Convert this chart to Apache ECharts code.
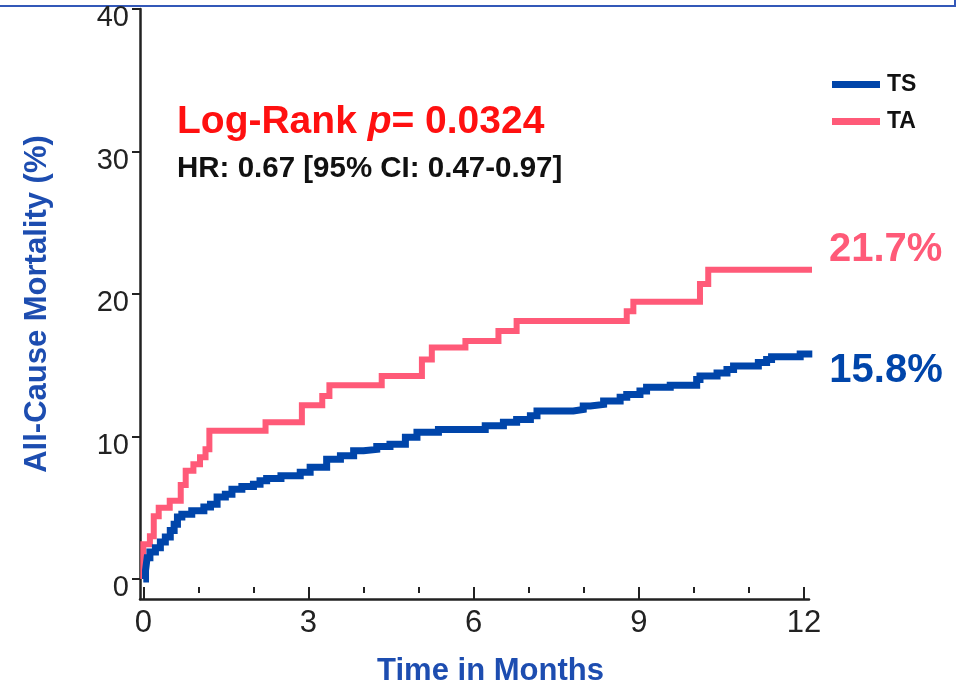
<!DOCTYPE html>
<html>
<head>
<meta charset="utf-8">
<title>All-Cause Mortality</title>
<script src="https://cdn.jsdelivr.net/npm/echarts@6/dist/echarts.min.js"></script>
<style>
  html, body { margin: 0; padding: 0; background: #fff; }
  #chart { width: 961px; height: 692px; }
</style>
</head>
<body>
<div id="chart"></div>
<script>
// Kaplan-Meier cumulative mortality, step values (time in months, mortality in %)
const tsTime = [0, 0.04, 0.07, 0.12, 0.22, 0.31, 0.40, 0.49, 0.56, 0.62, 0.70, 0.88, 1.10, 1.22, 1.34, 1.49, 1.61, 1.79, 2.00, 2.12, 2.24, 2.50, 2.85, 3.03, 3.33, 3.58, 3.82, 4.00, 4.24, 4.48, 4.76, 4.97, 5.36, 6.21, 6.54, 6.78, 7.03, 7.15, 7.81, 7.99, 8.12, 8.36, 8.66, 8.78, 9.02, 9.14, 9.57, 10.05, 10.11, 10.42, 10.60, 10.72, 11.17, 11.32, 11.41, 11.93, 12.15];
const tsMortality = [0, 0.6, 1.5, 1.9, 2.2, 2.6, 2.95, 3.4, 3.85, 4.35, 4.55, 4.8, 5.05, 5.25, 5.75, 5.95, 6.3, 6.5, 6.65, 6.9, 7.05, 7.25, 7.5, 7.85, 8.4, 8.65, 9.0, 9.1, 9.3, 9.45, 9.95, 10.3, 10.5, 10.75, 11.0, 11.2, 11.45, 11.8, 11.9, 12.15, 12.25, 12.5, 12.75, 12.95, 13.2, 13.45, 13.6, 14.0, 14.25, 14.45, 14.7, 14.95, 15.2, 15.4, 15.6, 15.8, 15.8];

const taTime = [0, 0, 0.12, 0.19, 0.28, 0.48, 0.68, 0.77, 0.91, 1.03, 1.13, 1.20, 2.22, 2.88, 3.25, 3.38, 4.33, 5.06, 5.24, 5.85, 6.45, 6.78, 8.78, 8.90, 10.11, 10.26, 12.15];
const taMortality = [0, 2.45, 3.0, 4.4, 5.0, 5.5, 6.6, 7.6, 8.05, 8.55, 9.1, 10.4, 11.0, 12.2, 12.85, 13.6, 14.25, 15.4, 16.25, 16.7, 17.4, 18.1, 18.8, 19.45, 20.7, 21.7, 21.7];

const xMajorTicks = [0, 3, 6, 9, 12];
const xMinorTicks = [1, 2, 4, 5, 7, 8, 10, 11];
const yTicks = [0, 10, 20, 30, 40];

const seriesNames = ['TS', 'TA'];
const TS_COLOR = '#0045AA';
const TA_COLOR = '#FF5A78';
const AXIS_COLOR = '#222';
const TITLE_BLUE = '#1D4DB0';
const FONT = "'Liberation Sans', Arial, sans-serif";

const zip = (xs, ys) => xs.map((x, i) => [x, ys[i]]);
const endFmt = p => p.value[1].toFixed(1) + '%';

const chart = echarts.init(document.getElementById('chart'), null, { renderer: 'canvas' });

chart.setOption({
  animation: false,
  backgroundColor: '#fff',
  grid: { left: 140, right: 152, top: 9, bottom: 92, containLabel: false },
  xAxis: [
    {
      type: 'value', min: -0.06, max: 12.09, position: 'bottom',
      splitLine: { show: false },
      axisLine: { onZero: false, lineStyle: { color: AXIS_COLOR, width: 2.5 } },
      axisTick: { show: true, inside: true, length: 12, customValues: xMajorTicks,
                  lineStyle: { color: AXIS_COLOR, width: 2 } },
      axisLabel: { customValues: xMajorTicks, margin: 9, color: AXIS_COLOR,
                   fontFamily: FONT, fontSize: 31 },
      name: 'Time in Months', nameLocation: 'middle', nameGap: 57,
      nameTextStyle: { color: TITLE_BLUE, fontFamily: FONT, fontWeight: 'bold', fontSize: 31,
                       padding: [0, 0, 0, 32] }
    },
    {
      // floating minor month ticks
      type: 'value', min: -0.06, max: 12.09, position: 'bottom', offset: -6,
      splitLine: { show: false },
      axisLine: { show: false, onZero: false },
      axisTick: { show: true, inside: true, length: 6, customValues: xMinorTicks,
                  lineStyle: { color: AXIS_COLOR, width: 2 } },
      axisLabel: { show: false }
    }
  ],
  yAxis: {
    type: 'value', min: -1.4, max: 40, position: 'left',
    splitLine: { show: false },
    axisLine: { onZero: false, lineStyle: { color: AXIS_COLOR, width: 2.5 } },
    axisTick: { show: true, inside: false, length: 8, customValues: yTicks,
                lineStyle: { color: AXIS_COLOR, width: 2 } },
    axisLabel: { customValues: yTicks, margin: 11, color: AXIS_COLOR,
                 fontFamily: FONT, fontSize: 29, verticalAlign: 'top', lineHeight: 18 },
    name: 'All-Cause Mortality (%)', nameLocation: 'middle', nameGap: 87, nameRotate: 90,
    nameTextStyle: { color: TITLE_BLUE, fontFamily: FONT, fontWeight: 'bold', fontSize: 31 }
  },
  legend: {
    data: seriesNames, orient: 'vertical', left: 827, top: 68,
    icon: 'rect', itemWidth: 48, itemHeight: 7, itemGap: 14,
    textStyle: { color: '#111', fontFamily: FONT, fontWeight: 'bold', fontSize: 23,
                 padding: [0, 0, 0, 2] }
  },
  series: [
    {
      name: 'TS', type: 'line', step: 'end', showSymbol: false, clip: false,
      data: zip(tsTime, tsMortality),
      lineStyle: { color: TS_COLOR, width: 7, join: 'miter' },
      itemStyle: { color: TS_COLOR },
      endLabel: { show: true, formatter: endFmt, offset: [9, 17], color: TS_COLOR,
                  fontFamily: FONT, fontWeight: 'bold', fontSize: 40 },
      z: 3
    },
    {
      name: 'TA', type: 'line', step: 'end', showSymbol: false, clip: false,
      data: zip(taTime, taMortality),
      lineStyle: { color: TA_COLOR, width: 6, join: 'miter' },
      itemStyle: { color: TA_COLOR },
      endLabel: { show: true, formatter: endFmt, offset: [9, -20], color: TA_COLOR,
                  fontFamily: FONT, fontWeight: 'bold', fontSize: 40 },
      z: 2
    }
  ],
  graphic: [
    {
      type: 'rect', silent: true,
      shape: { x: -10, y: -10, width: 965, height: 16 },
      style: { fill: 'none', stroke: '#3358B8', lineWidth: 2 }
    },
    {
      type: 'text', left: 177, top: 103,
      style: {
        text: '{a|Log-Rank }{b|p}{a|= 0.0324}',
        rich: {
          a: { fill: '#FF1010', fontFamily: FONT, fontWeight: 'bold', fontSize: 39 },
          b: { fill: '#FF1010', fontFamily: FONT, fontWeight: 'bold', fontStyle: 'italic', fontSize: 39 }
        }
      }
    },
    {
      type: 'text', left: 177, top: 154,
      style: { text: 'HR: 0.67 [95% CI: 0.47-0.97]', fill: '#111',
               font: "bold 29.5px 'Liberation Sans', Arial, sans-serif" }
    }
  ]
});
</script>
</body>
</html>
